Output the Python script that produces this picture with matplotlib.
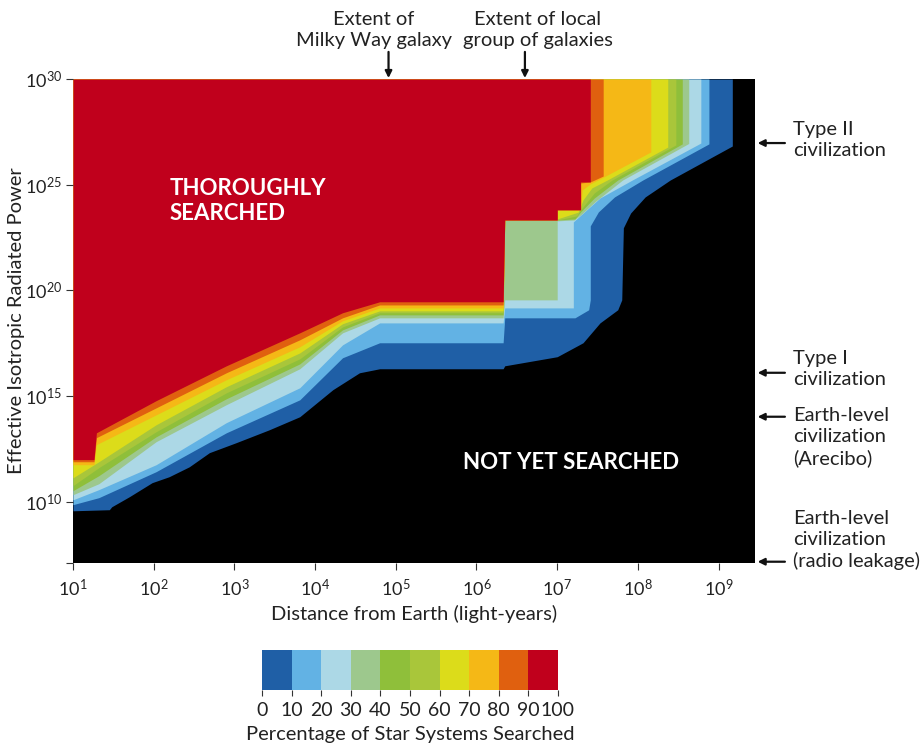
import numpy as np
import matplotlib.pyplot as plt
from matplotlib.colors import ListedColormap, BoundaryNorm
from matplotlib.cm import ScalarMappable

plt.rcParams['font.family'] = ['Lato', 'DejaVu Sans']
plt.rcParams['mathtext.fontset'] = 'custom'
plt.rcParams['mathtext.rm'] = 'Lato'
plt.rcParams['mathtext.it'] = 'Lato:italic'
plt.rcParams['mathtext.bf'] = 'Lato:bold'

# percentage of star systems searched, one colour per 10% bin
levels = [0, 10, 20, 30, 40, 50, 60, 70, 80, 90, 100]
bin_colors = ['#1f5fa6', '#62b2e4', '#acd8e6', '#9dc88d', '#8fbf3a',
              '#a9c63a', '#dcdc1a', '#f5b816', '#e0600f', '#c0001c']

# lower edge of the region searched to at least each level
# x = log10(distance / light-years), y = log10(EIRP / W)
edge_00_x = [1.0, 1.45, 1.48, 1.70, 1.98, 2.19, 2.44, 2.69, 3.02, 3.43, 3.81, 4.22, 4.55, 4.80,
             6.33, 6.35, 7.00, 7.32, 7.53, 7.75, 7.80, 7.82, 7.91, 8.09, 8.40, 9.17, 9.17]
edge_00_y = [9.57, 9.62, 9.76, 10.24, 10.90, 11.18, 11.65, 12.32, 12.79, 13.40, 14.02, 15.30, 16.10, 16.29,
             16.29, 16.43, 16.86, 17.52, 18.46, 19.08, 19.55, 22.96, 23.66, 24.42, 25.22, 26.83, 30.0]

edge_10_x = [1.0, 1.32, 2.03, 2.90, 3.81, 4.34, 4.80, 6.33, 6.35, 7.22, 7.39, 7.41, 7.41,
             7.51, 7.71, 8.06, 8.88, 8.88]
edge_10_y = [9.86, 10.19, 11.42, 13.26, 14.82, 16.81, 17.52, 17.52, 18.70, 18.70, 19.08, 19.55, 23.05,
             23.71, 24.42, 25.22, 26.93, 30.0]

edge_20_x = [1.0, 1.32, 2.03, 2.90, 3.81, 4.34, 4.80, 6.33, 6.35, 7.20, 7.20, 7.31, 7.53, 7.93, 8.78, 8.78]
edge_20_y = [10.09, 10.57, 11.75, 13.74, 15.39, 17.42, 18.46, 18.46, 19.17, 19.17, 23.24, 23.62, 24.37,
             25.22, 26.97, 30.0]

edge_30_x = [1.0, 1.32, 2.03, 2.90, 3.81, 4.34, 4.80, 6.33, 6.35, 7.00, 7.00, 7.21, 7.29, 7.48, 7.81,
             8.63, 8.63]
edge_30_y = [10.33, 10.85, 12.84, 14.59, 16.29, 17.99, 18.70, 18.70, 19.55, 19.55, 23.29, 23.33, 23.57,
             24.23, 25.22, 26.95, 30.0]

edge_40_x = [1.0, 1.32, 2.03, 2.90, 3.81, 4.34, 4.80, 6.33, 6.35, 7.00, 7.22, 7.29, 7.46, 7.75, 8.55, 8.55]
edge_40_y = [10.52, 11.23, 13.07, 14.87, 16.52, 18.13, 18.84, 18.84, 23.33, 23.33, 23.38, 23.71, 24.37,
             25.22, 26.93, 30.0]

edge_50_x = [1.0, 1.32, 2.03, 2.90, 3.81, 4.34, 4.80, 6.33, 6.35, 7.00, 7.24, 7.31, 7.46, 7.68, 8.47, 8.47]
edge_50_y = [10.76, 11.61, 13.31, 15.15, 16.76, 18.27, 18.94, 18.94, 23.33, 23.33, 23.52, 23.90, 24.61,
             25.22, 26.88, 30.0]

edge_60_x = [1.0, 1.32, 2.03, 2.90, 3.81, 4.34, 4.80, 6.33, 6.35, 7.00, 7.26, 7.32, 7.43, 7.62, 8.37, 8.37]
edge_60_y = [11.13, 11.89, 13.64, 15.44, 17.04, 18.42, 19.03, 19.03, 23.33, 23.38, 23.70, 24.28, 24.85,
             25.22, 26.78, 30.0]

edge_70_x = [1.0, 1.26, 1.29, 2.03, 2.90, 3.81, 4.34, 4.80, 6.33, 6.35, 7.00, 7.00, 7.29, 7.31, 7.41,
             7.53, 8.16, 8.16]
edge_70_y = [11.75, 11.75, 12.70, 14.11, 15.77, 17.33, 18.56, 19.17, 19.17, 23.33, 23.33, 23.81, 23.81,
             24.75, 25.04, 25.27, 26.55, 30.0]

edge_80_x = [1.0, 1.26, 1.29, 2.03, 2.90, 3.81, 4.34, 4.80, 6.33, 6.35, 7.00, 7.00, 7.29, 7.29, 7.41,
             7.57, 7.57]
edge_80_y = [11.89, 11.89, 13.03, 14.44, 16.10, 17.66, 18.70, 19.31, 19.31, 23.33, 23.33, 23.81, 23.81,
             25.08, 25.13, 25.41, 30.0]

edge_90_x = [1.0, 1.26, 1.29, 2.03, 2.90, 3.81, 4.34, 4.80, 6.33, 6.35, 7.00, 7.00, 7.29, 7.29, 7.41, 7.41]
edge_90_y = [11.99, 11.99, 13.26, 14.78, 16.43, 17.99, 18.94, 19.46, 19.46, 23.33, 23.33, 23.81, 23.81,
             25.13, 25.13, 30.0]

edges = [(edge_00_x, edge_00_y), (edge_10_x, edge_10_y), (edge_20_x, edge_20_y),
         (edge_30_x, edge_30_y), (edge_40_x, edge_40_y), (edge_50_x, edge_50_y),
         (edge_60_x, edge_60_y), (edge_70_x, edge_70_y), (edge_80_x, edge_80_y),
         (edge_90_x, edge_90_y)]

# reference distances (log10 ly) and civilisation power levels (log10 W)
extent_x = [4.91, 6.60]
extent_labels = ['Extent of\nMilky Way galaxy', 'Extent of local\ngroup of galaxies']
civ_y = [26.97, 16.10, 14.02, 7.16]
civ_labels = ['Type II\ncivilization', 'Type I\ncivilization',
              'Earth-level\ncivilization\n(Arecibo)', 'Earth-level\ncivilization\n(radio leakage)']

x_ticks = [1, 2, 3, 4, 5, 6, 7, 8, 9]
y_ticks = [10, 15, 20, 25, 30]

x_min, x_max = 1.0, 9.45
y_min, y_max = 7.1, 30.0

fig = plt.figure(figsize=(9.24, 7.44), dpi=100)
ax = fig.add_axes([0.079, 0.2433, 0.738, 0.6505])
ax.set_xscale('log')
ax.set_yscale('log')
ax.set_facecolor('black')

for (ex, ey), c in zip(edges, bin_colors):
    ax.fill_between(10.0 ** np.array(ex), 10.0 ** np.array(ey), 10.0 ** y_max,
                    color=c, lw=0)

ax.set_xlim(10 ** x_min, 10 ** x_max)
ax.set_ylim(10 ** y_min, 10 ** y_max)
for s in ax.spines.values():
    s.set_visible(False)

ax.set_xticks([10.0 ** v for v in x_ticks])
ax.set_xticklabels(['$10^{%d}$' % v for v in x_ticks])
ax.set_yticks([10.0 ** y_min] + [10.0 ** v for v in y_ticks])
ax.set_yticklabels([''] + ['$10^{%d}$' % v for v in y_ticks])
ax.minorticks_off()
ax.tick_params(axis='both', direction='out', length=5, width=0.8, color='#333333',
               labelsize=13, labelcolor='#222222')
ax.tick_params(axis='x', pad=6)
ax.tick_params(axis='y', pad=3)

ax.set_xlabel('Distance from Earth (light-years)', fontsize=14.5, color='#222222')
ax.set_ylabel('Effective Isotropic Radiated Power', fontsize=14.5, color='#222222')
ax.xaxis.set_label_coords(0.5, -0.086)
ax.yaxis.set_label_coords(-0.071, 0.5)

ax.text(0.142, 0.748, 'THOROUGHLY\nSEARCHED', transform=ax.transAxes, color='white',
        fontsize=16, fontweight='bold', ha='left', va='center', linespacing=1.2)
ax.text(0.730, 0.2066, 'NOT YET SEARCHED', transform=ax.transAxes, color='white',
        fontsize=16, fontweight='bold', ha='center', va='center')

# markers above the plot
for xv, lab, tx in zip(extent_x, extent_labels, [0.441, 0.682]):
    ax.annotate('', xy=(10 ** xv, 1.002), xycoords=('data', 'axes fraction'),
                xytext=(10 ** xv, 1.056), textcoords=('data', 'axes fraction'),
                arrowprops=dict(arrowstyle='-|>', color='#111111', lw=1.6,
                                mutation_scale=10, shrinkA=0, shrinkB=0))
    ax.text(tx, 1.101, lab, transform=ax.transAxes, ha='center', va='center',
            fontsize=14.5, color='#222222', linespacing=1.3)

# markers to the right of the plot
for yv, lab, ty in zip(civ_y, civ_labels, [0.874, 0.400, 0.260, 0.0475]):
    ax.annotate('', xy=(1.004, 10 ** yv), xycoords=('axes fraction', 'data'),
                xytext=(1.044, 10 ** yv), textcoords=('axes fraction', 'data'),
                arrowprops=dict(arrowstyle='-|>', color='#111111', lw=1.6,
                                mutation_scale=10, shrinkA=0, shrinkB=0))
    ax.text(1.0557, ty, lab, transform=ax.transAxes, ha='left', va='center',
            fontsize=14.5, color='#222222', linespacing=1.3)

# colour scale
cax = fig.add_axes([0.2835, 0.0726, 0.3203, 0.0538])
sm = ScalarMappable(norm=BoundaryNorm(levels, len(bin_colors)), cmap=ListedColormap(bin_colors))
cb = fig.colorbar(sm, cax=cax, orientation='horizontal', ticks=levels)
cb.outline.set_visible(False)
cax.tick_params(direction='out', length=4, width=0.8, color='#333333',
                labelsize=14, labelcolor='#222222', pad=5)
cb.set_label('Percentage of Star Systems Searched', fontsize=14.5, color='#222222', labelpad=5)

fig.savefig('out.png', dpi=100)
